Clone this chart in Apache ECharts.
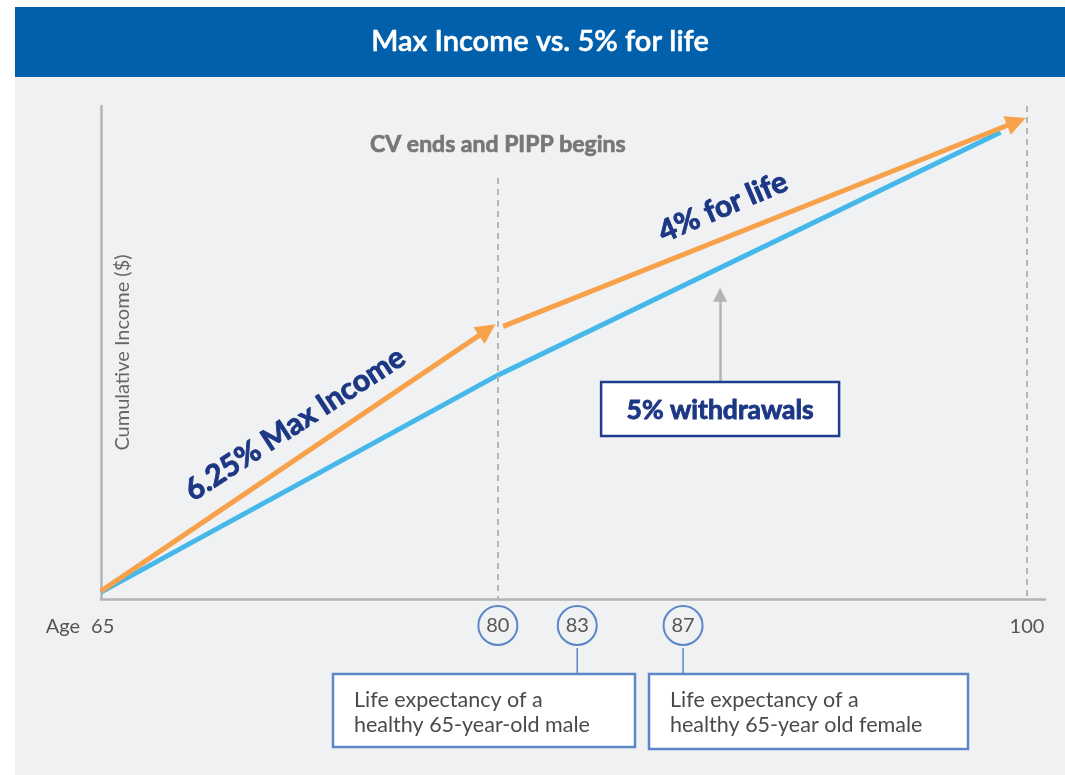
<!DOCTYPE html>
<html><head><meta charset="utf-8">
<script src="https://cdn.jsdelivr.net/npm/echarts@6/dist/echarts.min.js"></script>
<style>html,body{margin:0;padding:0;background:#fff}#c{width:1065px;height:775px}</style>
</head><body><div id="c"></div>
<script>
// ---- data ----
const chartTitle = 'Max Income vs. 5% for life';
const ageTicks = [65, 80, 83, 87, 100];
const circledAges = [80, 83, 87];
const withdrawals5 = [[65, 1.4], [80, 45.4], [99, 94.7]];      // blue line
const maxIncome625 = [[65, 1.6], [79.6, 54.6]];                 // orange arrow 1
const forLife4 = [[80.2, 55.3], [99.6, 96.8]];                  // orange arrow 2
const pointerArrow = [[88.4, 44.0], [88.4, 61.7]];             // grey arrow
const cvEnd = {age: 80, top: 85.4, text: 'CV ends and PIPP begins'};
const endAge = {age: 100, top: 100};
const maleNote = {age: 83, lines: ['Life expectancy of a', 'healthy 65-year-old male']};
const femaleNote = {age: 87, lines: ['Life expectancy of a', 'healthy 65-year old female']};
const labels = {max: '6.25% Max Income', life: '4% for life', w: '5% withdrawals', yName: 'Cumulative Income ($)', age: 'Age'};

const FONT = 'Lato, "Noto Sans", sans-serif';
const navy = '#1c3784';
const boxBlue = '#5b86c8';
const chart = echarts.init(document.getElementById('c'));

function fmt(v) {
  if (v === 65) return '{age|' + labels.age + '}{num|' + v + '}{pad| }';
  if (circledAges.indexOf(v) >= 0) return '{circ|' + v + '}';
  return '{plain|' + v + '}';
}

const option = {
  animation: false,
  backgroundColor: '#ffffff',
  textStyle: {fontFamily: FONT},
  grid: {left: 101, right: 20, top: 106, bottom: 176, outerBoundsMode: 'none'},
  xAxis: {
    type: 'value', min: 65, max: 100.68,
    axisLine: {show: true, lineStyle: {color: '#b4b4b4', width: 2.5}},
    axisTick: {show: false}, splitLine: {show: false},
    axisLabel: {
      customValues: ageTicks, margin: 7, formatter: fmt,
      rich: {
        circ: {width: 39, height: 39, lineHeight: 39, borderRadius: 22, borderColor: boxBlue, borderWidth: 2,
               align: 'center', fontSize: 20, color: '#555', fontFamily: FONT},
        plain: {fontSize: 20, color: '#555', lineHeight: 41, height: 41, fontFamily: FONT},
        age: {fontSize: 20, color: '#555', lineHeight: 41, height: 41, fontFamily: FONT, padding: [0, 11, 0, 0]},
        num: {fontSize: 20, color: '#555', lineHeight: 41, height: 41, fontFamily: FONT},
        pad: {width: 42, fontSize: 20, lineHeight: 41, height: 41}
      }
    }
  },
  yAxis: {
    type: 'value', min: 0, max: 100,
    name: labels.yName, nameLocation: 'middle', nameGap: -32,
    nameTextStyle: {fontSize: 20, color: '#666', fontFamily: FONT},
    axisLine: {show: true, lineStyle: {color: '#b4b4b4', width: 2.5}},
    axisTick: {show: false}, axisLabel: {show: false}, splitLine: {show: false}
  },
  series: [
    {
      type: 'line', data: withdrawals5, symbol: 'none', showSymbol: false,
      lineStyle: {color: '#45b8e9', width: 5}, itemStyle: {color: '#45b8e9'}, z: 3,
      markLine: {
        silent: true, symbol: ['none', 'none'], animation: false,
        lineStyle: {type: [6, 5], color: '#b5b5b5', width: 2},
        label: {show: false},
        data: [
          [{coord: [cvEnd.age, cvEnd.top],
            label: {show: true, position: 'start', distance: 22, formatter: cvEnd.text,
                    fontSize: 23, fontWeight: 'bold', color: '#777', fontFamily: FONT,
                    textBorderColor: '#777', textBorderWidth: 0.7}},
           {coord: [cvEnd.age, 0]}],
          [{coord: [endAge.age, endAge.top]}, {coord: [endAge.age, 0]}]
        ]
      }
    },
    {
      type: 'lines', coordinateSystem: 'cartesian2d', symbol: ['none', 'triangle'], symbolSize: 20,
      lineStyle: {color: '#f8a14b', width: 5, opacity: 1, curveness: 0}, itemStyle: {color: '#f8a14b'},
      data: [{coords: maxIncome625}, {coords: forLife4}], z: 5, silent: true
    },
    {
      type: 'lines', coordinateSystem: 'cartesian2d', symbol: ['none', 'triangle'], symbolSize: 14,
      lineStyle: {color: '#b3b3b3', width: 2.5, opacity: 1, curveness: 0}, itemStyle: {color: '#b3b3b3'},
      data: [{coords: pointerArrow}], z: 2, silent: true
    }
  ]
};
chart.setOption(option);

const px = (p) => chart.convertToPixel({gridIndex: 0}, p);
const pArrow = px(pointerArrow[0]);
const p83 = px([maleNote.age, 0]);
const p87 = px([femaleNote.age, 0]);
const deg = Math.PI / 180;

function noteBox(x, y, w, h, lines) {
  return [
    {type: 'rect', shape: {x: x, y: y, width: w, height: h}, style: {fill: '#fff', stroke: boxBlue, lineWidth: 2.5}, z: 10},
    {type: 'text', x: x + 21, y: y + 26, style: {text: lines[0], fontSize: 21.5, fill: '#4a4a4a', fontFamily: FONT, textVerticalAlign: 'middle'}, z: 11},
    {type: 'text', x: x + 21, y: y + 51, style: {text: lines[1], fontSize: 21.5, fill: '#4a4a4a', fontFamily: FONT, textVerticalAlign: 'middle'}, z: 11}
  ];
}
function boldText(x, y, rot, text, size, color) {
  return {type: 'text', x: x, y: y, rotation: rot * deg,
    style: {text: text, fill: color, stroke: color, lineWidth: 0.9, fontSize: size, fontWeight: 'bold', fontFamily: FONT,
            textAlign: 'center', textVerticalAlign: 'middle'}, z: 11};
}

chart.setOption({
  graphic: [
    {type: 'rect', shape: {x: 15, y: 77, width: 1050, height: 698}, style: {fill: '#f0f1f3'}, z: -100},
    {type: 'rect', shape: {x: 15, y: 7, width: 1050, height: 70}, style: {fill: '#0060ac'}, z: -100},
    {type: 'text', x: 540, y: 42, style: {text: chartTitle, fill: '#fff', stroke: '#fff', lineWidth: 0.5, fontSize: 29, fontWeight: 600, fontFamily: FONT, textAlign: 'center', textVerticalAlign: 'middle'}, z: 10},
    boldText(295, 424, 33, labels.max, 30, navy),
    boldText(723, 207, 23, labels.life, 30, navy),
    {type: 'rect', shape: {x: pArrow[0] - 119, y: 382, width: 238, height: 54}, style: {fill: '#fff', stroke: '#1e3d8f', lineWidth: 2.5}, z: 10},
    boldText(pArrow[0], 410, 0, labels.w, 26.5, navy),
    {type: 'line', shape: {x1: p83[0], y1: 648, x2: p83[0], y2: 674}, style: {stroke: boxBlue, lineWidth: 1.5}, z: 9},
    {type: 'line', shape: {x1: p87[0], y1: 648, x2: p87[0], y2: 674}, style: {stroke: boxBlue, lineWidth: 1.5}, z: 9}
  ].concat(noteBox(333, 674, 302, 73, maleNote.lines)).concat(noteBox(649, 674, 319, 75, femaleNote.lines))
});
</script></body></html>
